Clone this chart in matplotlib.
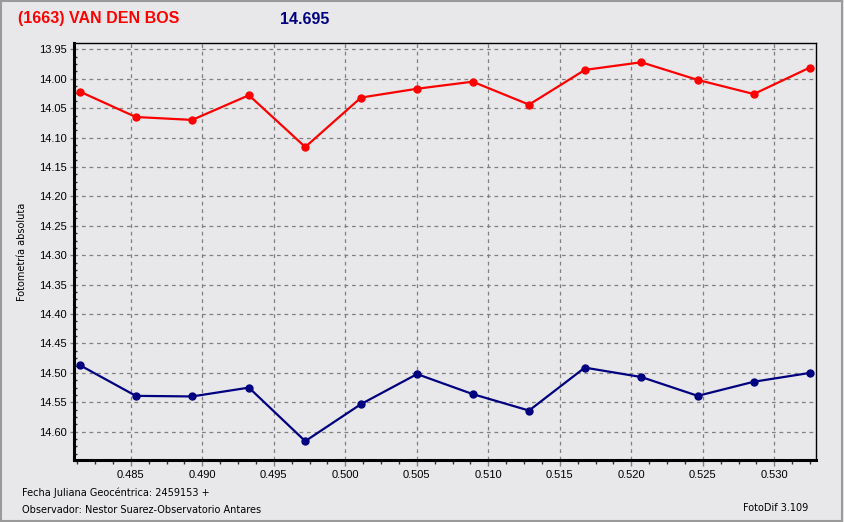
import matplotlib
matplotlib.use("Agg")
import matplotlib.pyplot as plt
from matplotlib.ticker import MultipleLocator, FormatStrFormatter
from matplotlib.patches import Rectangle

# time (JD fraction) and magnitudes
jd = [0.48145, 0.48535, 0.48929, 0.49326, 0.49720, 0.50110, 0.50502,
      0.50891, 0.51285, 0.51675, 0.52070, 0.52465, 0.52857, 0.53249]
mag_target = [14.022, 14.065, 14.070, 14.028, 14.116, 14.032, 14.017,
              14.005, 14.044, 13.985, 13.972, 14.002, 14.026, 13.981]
mag_comp = [14.487, 14.539, 14.540, 14.525, 14.616, 14.553, 14.502,
            14.536, 14.564, 14.491, 14.507, 14.539, 14.515, 14.500]

title_name = "(1663) VAN DEN BOS"
title_mag = "14.695"

bg = "#E8E8EA"
fig = plt.figure(figsize=(8.44, 5.22), dpi=100, facecolor=bg)
ax = fig.add_axes([0.0877, 0.1188, 0.8788, 0.7982], facecolor=bg)

ax.plot(jd, mag_target, color="#FF0000", lw=1.6, marker="o", ms=5, zorder=3)
ax.plot(jd, mag_comp, color="#000080", lw=1.6, marker="o", ms=5, zorder=3)

ax.set_xlim(0.48103, 0.5329)
ax.set_ylim(14.648, 13.9398)

ax.xaxis.set_major_locator(MultipleLocator(0.005))
ax.xaxis.set_minor_locator(MultipleLocator(0.00125))
ax.yaxis.set_major_locator(MultipleLocator(0.05))
ax.yaxis.set_minor_locator(MultipleLocator(0.0125))
ax.xaxis.set_major_formatter(FormatStrFormatter("%.3f"))
ax.yaxis.set_major_formatter(FormatStrFormatter("%.2f"))

ax.grid(True, which="major", color="#808080", linestyle=(0, (3, 3)), lw=0.9)
ax.tick_params(which="both", labelsize=8, labelfontfamily="Liberation Sans")
ax.tick_params(axis="x", which="major", direction="out", length=4, width=1,
               color="#808080", pad=3)
ax.tick_params(axis="x", which="minor", direction="out", length=3, width=1,
               color="#333333")
ax.tick_params(axis="y", which="major", direction="out", length=3, width=1,
               color="#808080", pad=2)
ax.tick_params(axis="y", which="minor", direction="in", length=2, width=1,
               color="#333333")

for side in ["left", "bottom"]:
    ax.spines[side].set_linewidth(2.2)
for side in ["top", "right"]:
    ax.spines[side].set_linewidth(1.0)

fig.text(22 / 844, 1 - 252 / 522, "Fotometría absoluta", fontsize=7,
         rotation=90, ha="center", va="center")

fig.text(18 / 844, 1 - 19 / 522, title_name, color="#FF0000", fontsize=11.5,
         fontweight="bold", family="Liberation Sans", va="center")
fig.text(280 / 844, 1 - 19 / 522, title_mag, color="#000080", fontsize=11.5,
         fontweight="bold", family="Liberation Sans", va="center")

fig.text(22 / 844, 1 - 493 / 522, "Fecha Juliana Geocéntrica: 2459153 +",
         fontsize=7, va="center")
fig.text(22 / 844, 1 - 510 / 522, "Observador: Nestor Suarez-Observatorio Antares",
         fontsize=7, va="center")
fig.text(808 / 844, 1 - 508 / 522, "FotoDif 3.109", fontsize=7,
         ha="right", va="center")

fig.patches.append(Rectangle((0.001, 0.002), 0.997, 0.996, transform=fig.transFigure,
                             fill=False, edgecolor="#9A9A9A", lw=1.5))

fig.savefig("out.png", dpi=100, facecolor=bg)
